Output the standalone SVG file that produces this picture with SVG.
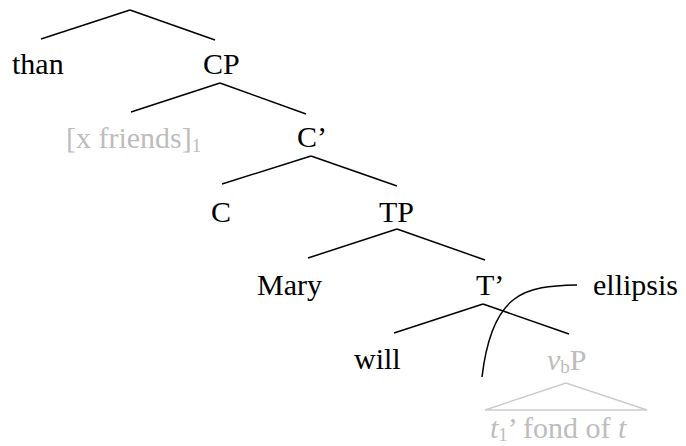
<svg xmlns="http://www.w3.org/2000/svg" width="686" height="446" viewBox="0 0 686 446">
<style>
text{font-family:'Liberation Serif', 'Times New Roman', Times, serif;font-size:30px;fill:#000}
.g{fill:#bdbdbd}
.sub{font-size:19px}
.it{font-style:italic}
.e line,.e path{stroke:#000;stroke-width:1.5;fill:none}
.tri{stroke:#cccccc;stroke-width:1.5;fill:none}
</style>
<g id="connectors" class="e">
<line x1="41" y1="39" x2="130" y2="10"/>
<line x1="130" y1="10" x2="215" y2="40"/>
<line x1="131" y1="112" x2="220" y2="83"/>
<line x1="220" y1="83" x2="306" y2="114"/>
<line x1="222" y1="184" x2="311" y2="156"/>
<line x1="311" y1="156" x2="397" y2="186"/>
<line x1="308" y1="258" x2="397" y2="229"/>
<line x1="397" y1="229" x2="485" y2="260"/>
<line x1="394" y1="333" x2="483" y2="304"/>
<line x1="483" y1="304" x2="569" y2="334"/>
<path d="M577,285 C525,286 492,292 482,377"/>
</g>
<g font-family="Liberation Serif, serif">
<g id="n-than"><text x="12" y="74" font-family="Liberation Serif">than</text></g>
<g id="n-CP"><text x="203" y="74" font-family="Liberation Serif">CP</text></g>
<g id="n-xfriends"><text class="g" x="66" y="148" font-family="Liberation Serif">[x friends]<tspan class="sub" dy="4">1</tspan></text></g>
<g id="n-Cbar"><text x="297" y="147" font-family="Liberation Serif">C’</text></g>
<g id="n-C"><text x="211" y="222" font-family="Liberation Serif">C</text></g>
<g id="n-TP"><text x="379" y="222" font-family="Liberation Serif">TP</text></g>
<g id="n-Mary"><text x="257" y="295" font-family="Liberation Serif">Mary</text></g>
<g id="n-Tbar"><text x="476" y="295" font-family="Liberation Serif">T’</text></g>
<g id="n-ellipsis"><text x="593" y="295" font-family="Liberation Serif">ellipsis</text></g>
<g id="n-will"><text x="354" y="369" font-family="Liberation Serif">will</text></g>
<g id="n-vbP"><text class="g" x="547" y="370" font-family="Liberation Serif"><tspan class="it">v</tspan><tspan class="sub" dy="3">b</tspan><tspan dy="-3">P</tspan></text></g>
<g id="n-triangle"><polygon class="tri" points="566,383 485,410 647,410"/></g>
<g id="n-fond"><text class="g" x="490" y="438" font-family="Liberation Serif"><tspan class="it">t</tspan><tspan class="sub" dy="3">1</tspan><tspan dy="-3">’ fond of </tspan><tspan class="it">t</tspan></text></g>
</g>
</svg>
